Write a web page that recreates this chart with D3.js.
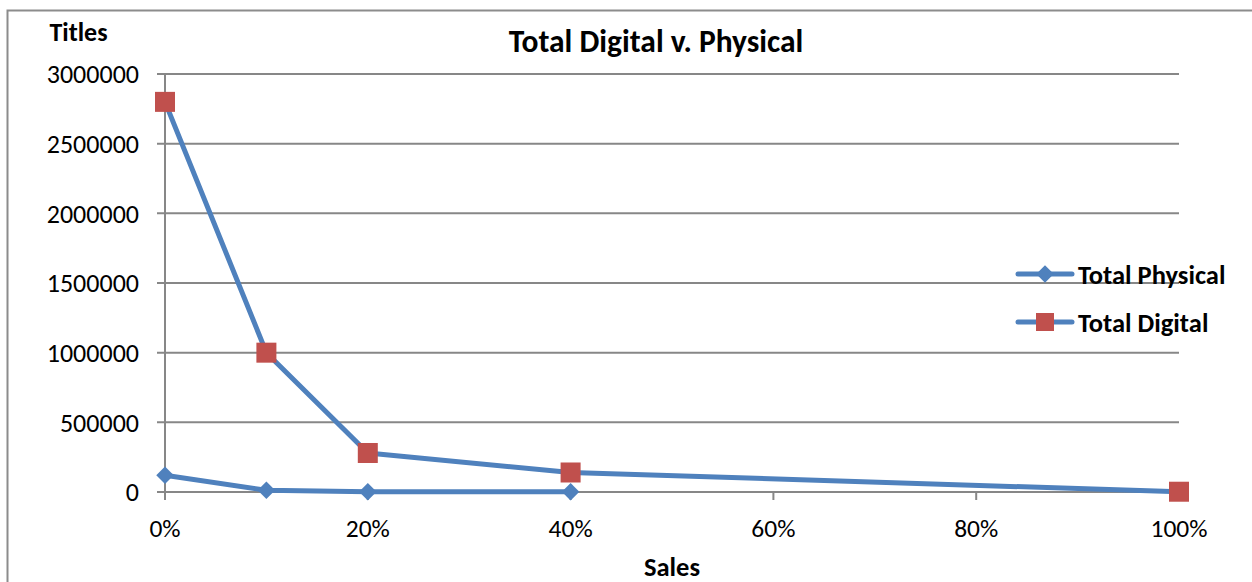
<!DOCTYPE html>
<html><head><meta charset="utf-8">
<script src="https://cdn.jsdelivr.net/npm/d3@7"></script>
<style>
body{margin:0;background:#fff;}
text{font-family:Carlito,Lato,"Open Sans",sans-serif;fill:#000;}
</style></head>
<body><svg id="c" width="1252" height="582"></svg>
<script>
const sales = [0, 0.1, 0.2, 0.4, 1.0];
const physical = [120000, 12000, 2000, 1000, null];
const digital = [2800000, 1000000, 280000, 140000, 2000];
const seriesNames = ["Total Physical", "Total Digital"];
const yTicks = [0, 500000, 1000000, 1500000, 2000000, 2500000, 3000000];
const xTicks = [0, 0.2, 0.4, 0.6, 0.8, 1.0];

const svg = d3.select("#c");
const lineColor = "#4F81BD", markColor = "#C0504D", gridColor = "#878787";

// outer border
svg.append("path").attr("d","M7.5,582 L7.5,10.5 L1252,10.5").attr("fill","none").attr("stroke","#8c8c8c").attr("stroke-width",2);

const x = d3.scaleLinear().domain([0,1]).range([165,1179]);
const y = d3.scaleLinear().domain([0,3000000]).range([492,74]);

// gridlines
svg.append("g").selectAll("line").data(yTicks).join("line")
  .attr("x1",157).attr("x2",1179).attr("y1",d=>y(d)).attr("y2",d=>y(d))
  .attr("stroke",gridColor).attr("stroke-width",2);
// y axis line
svg.append("line").attr("x1",165).attr("x2",165).attr("y1",74).attr("y2",500)
  .attr("stroke",gridColor).attr("stroke-width",2);
// x ticks
svg.append("g").selectAll("line").data(xTicks).join("line")
  .attr("x1",d=>x(d)).attr("x2",d=>x(d)).attr("y1",492).attr("y2",500)
  .attr("stroke",gridColor).attr("stroke-width",2);

// y labels
svg.append("g").selectAll("text").data(yTicks).join("text")
  .attr("x",139).attr("y",d=>y(d)).attr("dy","0.36em").attr("text-anchor","end")
  .style("font-size","26px").text(d=>d3.format("d")(d));
// x labels
svg.append("g").selectAll("text").data(xTicks).join("text")
  .attr("x",d=>x(d)).attr("y",528).attr("dy","0.36em").attr("text-anchor","middle")
  .style("font-size","25.5px").text(d=>d3.format(".0%")(d));

// titles
svg.append("text").attr("x",656).attr("y",41).attr("dy","0.36em").attr("text-anchor","middle")
  .style("font-size","31.5px").style("font-weight","bold").text("Total Digital v. Physical");
svg.append("text").attr("x",78.5).attr("y",32).attr("dy","0.36em").attr("text-anchor","middle")
  .style("font-size","26px").style("font-weight","bold").text("Titles");
svg.append("text").attr("x",672).attr("y",566).attr("dy","0.36em").attr("text-anchor","middle")
  .style("font-size","26.5px").style("font-weight","bold").text("Sales");

const line = d3.line().defined(d=>d[1]!=null).x(d=>x(d[0])).y(d=>y(d[1]));
const physData = sales.map((s,i)=>[s,physical[i]]);
const digData = sales.map((s,i)=>[s,digital[i]]);

svg.append("path").datum(physData).attr("d",line).attr("fill","none")
  .attr("stroke",lineColor).attr("stroke-width",5).attr("stroke-linejoin","round");
svg.append("path").datum(digData).attr("d",line).attr("fill","none")
  .attr("stroke",lineColor).attr("stroke-width",5).attr("stroke-linejoin","round");

const diamond = d3.symbol().type(d3.symbolDiamond2).size(195);
svg.append("g").selectAll("path").data(physData.filter(d=>d[1]!=null)).join("path")
  .attr("d",diamond).attr("transform",d=>`translate(${x(d[0])},${y(d[1])})`)
  .attr("fill",lineColor);
svg.append("g").selectAll("rect").data(digData).join("rect")
  .attr("x",d=>x(d[0])-10).attr("y",d=>y(d[1])-10).attr("width",20).attr("height",20)
  .attr("fill",markColor);

// legend
const lg = svg.append("g");
const ly = [274, 322];
seriesNames.forEach((n,i)=>{
  lg.append("line").attr("x1",1018).attr("x2",1072).attr("y1",ly[i]).attr("y2",ly[i])
    .attr("stroke",lineColor).attr("stroke-width",5).attr("stroke-linecap","round");
  if(i===0){
    lg.append("path").attr("d",d3.symbol().type(d3.symbolDiamond2).size(195)())
      .attr("transform",`translate(1045,${ly[i]})`).attr("fill",lineColor);
  } else {
    lg.append("rect").attr("x",1036).attr("y",ly[i]-9).attr("width",18).attr("height",18).attr("fill",markColor);
  }
  lg.append("text").attr("x",1078).attr("y",ly[i]).attr("dy","0.36em")
    .style("font-size","26.5px").style("font-weight","bold").text(n);
});
</script></body></html>
